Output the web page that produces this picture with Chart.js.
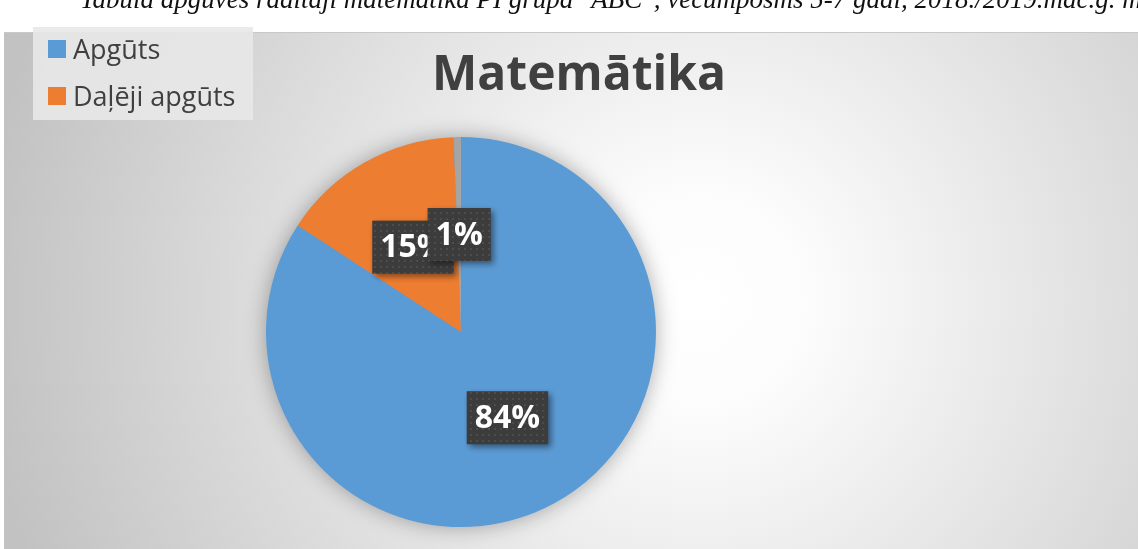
<!DOCTYPE html>
<html>
<head>
<meta charset="utf-8">
<script src="https://cdn.jsdelivr.net/npm/chart.js@4.4.1/dist/chart.umd.min.js"></script>
<style>
    body { margin: 0; background: #fff; width: 1138px; height: 549px; overflow: hidden; position: relative; }
    #caption {
        position: absolute; left: 80px; top: -16px; z-index: 2;
        font-family: "Liberation Serif", serif; font-style: italic; font-size: 27px;
        color: #111; white-space: nowrap;
    }
    #wrap { position: absolute; left: 0; top: 0; width: 1138px; height: 549px; }
</style>
</head>
<body>
<div id="caption">Tabula apguves rādītāji matemātikā PI grupā "ABC", vecumposms 5-7 gadi, 2018./2019.māc.g. mācību gadā</div>
<div id="wrap"><canvas id="pieChart"></canvas></div>
<script>
// Chart data
const chartTitle = 'Matemātika';
const categories = ['Apgūts', 'Daļēji apgūts', 'Nav apgūts'];
const shares = [84.2, 15.2, 0.6];
const sliceColors = ['#5b9bd5', '#ed7d31', '#a5a5a5'];
const legendCount = 2; // only first two shown in legend

// Dotted dark pattern for label boxes
function makeDotPattern(ctx) {
    const p = document.createElement('canvas');
    p.width = 6; p.height = 6;
    const pc = p.getContext('2d');
    pc.fillStyle = '#3c3c3c';
    pc.fillRect(0, 0, 6, 6);
    pc.fillStyle = '#4c4c4c';
    pc.fillRect(2, 2, 2, 2);
    return ctx.createPattern(p, 'repeat');
}

// Background frame, title and legend
const framePlugin = {
    id: 'frame',
    beforeDraw(chart) {
        const ctx = chart.ctx;
        const w = chart.width, h = chart.height;
        ctx.save();
        ctx.fillStyle = '#fff';
        ctx.fillRect(0, 0, w, h);
        const g = ctx.createRadialGradient(700, 300, 0, 700, 300, 720);
        g.addColorStop(0, '#ffffff');
        g.addColorStop(0.15, '#fcfcfc');
        g.addColorStop(1, '#c2c2c2');
        ctx.fillStyle = g;
        ctx.fillRect(4, 32, w - 4, h - 32);
        ctx.strokeStyle = '#c8c8c8';
        ctx.lineWidth = 1;
        ctx.beginPath();
        ctx.moveTo(4, 32.5);
        ctx.lineTo(w, 32.5);
        ctx.stroke();
        ctx.restore();
    },
    beforeDatasetsDraw(chart) {
        // soft shadow behind the pie
        const arc = chart.getDatasetMeta(0).data[0];
        if (!arc) return;
        const ctx = chart.ctx;
        ctx.save();
        ctx.shadowColor = 'rgba(0,0,0,0.35)';
        ctx.shadowBlur = 22;
        ctx.fillStyle = '#5b9bd5';
        ctx.beginPath();
        ctx.arc(arc.x, arc.y, arc.outerRadius - 1, 0, Math.PI * 2);
        ctx.fill();
        ctx.restore();
    },
    afterDraw(chart) {
        const ctx = chart.ctx;
        ctx.save();
        // title
        ctx.fillStyle = '#404040';
        ctx.font = 'bold 48px "Open Sans"';
        ctx.textAlign = 'center';
        ctx.textBaseline = 'alphabetic';
        ctx.fillText(chartTitle, 579, 90);

        // legend
        ctx.fillStyle = 'rgba(232,232,232,0.9)';
        ctx.fillRect(33, 27, 220, 93);
        ctx.textAlign = 'left';
        ctx.font = '27px "Open Sans"';
        for (let i = 0; i < legendCount; i++) {
            const y = 40 + i * 47;
            ctx.fillStyle = sliceColors[i];
            ctx.fillRect(48, y, 18, 18);
            ctx.fillStyle = '#404040';
            ctx.fillText(categories[i], 73, y + 19);
        }
        ctx.restore();
    }
};

// Percentage labels in dark boxes
const labelPlugin = {
    id: 'boxLabels',
    afterDatasetsDraw(chart) {
        const ctx = chart.ctx;
        const meta = chart.getDatasetMeta(0);
        const total = shares.reduce((a, b) => a + b, 0);
        const pattern = makeDotPattern(ctx);
        ctx.save();
        ctx.font = 'bold 32px "Open Sans"';
        ctx.textAlign = 'center';
        ctx.textBaseline = 'middle';
        meta.data.forEach((arc, i) => {
            const p = arc.getProps(['x', 'y', 'startAngle', 'endAngle', 'outerRadius'], true);
            const mid = (p.startAngle + p.endAngle) / 2;
            const r = p.outerRadius * 0.5;
            const cx = p.x + Math.cos(mid) * r;
            const cy = p.y + Math.sin(mid) * r;
            const text = Math.round(shares[i] / total * 100) + '%';
            const bw = ctx.measureText(text).width + 16;
            const bh = 53;
            ctx.save();
            ctx.shadowColor = 'rgba(0,0,0,0.45)';
            ctx.shadowBlur = 6;
            ctx.shadowOffsetX = 3;
            ctx.shadowOffsetY = 3;
            ctx.fillStyle = pattern;
            ctx.fillRect(cx - bw / 2, cy - bh / 2, bw, bh);
            ctx.restore();
            ctx.fillStyle = '#ffffff';
            ctx.fillText(text, cx, cy + 1);
        });
        ctx.restore();
    }
};

const ctx = document.getElementById('pieChart').getContext('2d');
new Chart(ctx, {
    type: 'pie',
    data: {
        labels: categories,
        datasets: [{
            data: shares,
            backgroundColor: sliceColors,
            borderWidth: 0
        }]
    },
    options: {
        responsive: true,
        maintainAspectRatio: false,
        animation: false,
        layout: {
            padding: { top: 137, bottom: 22, left: 266, right: 482 }
        },
        plugins: {
            legend: { display: false },
            title: { display: false },
            tooltip: { enabled: false }
        }
    },
    plugins: [framePlugin, labelPlugin]
});
</script>
</body>
</html>
